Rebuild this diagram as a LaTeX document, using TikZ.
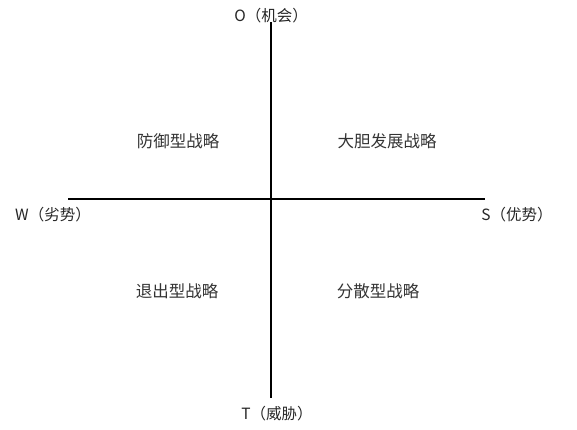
\documentclass[tikz,border=0pt]{standalone}
\usepackage{fontspec}
\newfontfamily\cjk{Noto Sans CJK SC}
\begin{document}
\begin{tikzpicture}[
			x=1pt,y=-1pt,
			axislabel/.style={font=\cjk\fontsize{15.5}{18}\selectfont, text=black!85},
			strategy/.style={font=\cjk\fontsize{16.5}{20}\selectfont, text=black!80},
			axis/.style={line width=1.2pt}
			]
			\useasboundingbox (0,0) rectangle (577,429);
			\coordinate (top) at (271,22);
			\coordinate (bottom) at (271,398);
			\coordinate (left) at (68,199);
			\coordinate (right) at (485,199);
			\draw[axis] (top) -- (bottom);
			\draw[axis] (left) -- (right);
			\node[axislabel] (opp) at (271,16) {O（机会）};
			\node[axislabel] (weak) at (53,215) {W（劣势）};
			\node[axislabel] (strong) at (517,215) {S（优势）};
			\node[axislabel] (threat) at (277,414) {T（威胁）};
			\node[strategy] (defend) at (178,141) {防御型战略};
			\node[strategy] (bold) at (387,141) {大胆发展战略};
			\node[strategy] (quit) at (177,291) {退出型战略};
			\node[strategy] (spread) at (378,291) {分散型战略};
		\end{tikzpicture}
\end{document}
